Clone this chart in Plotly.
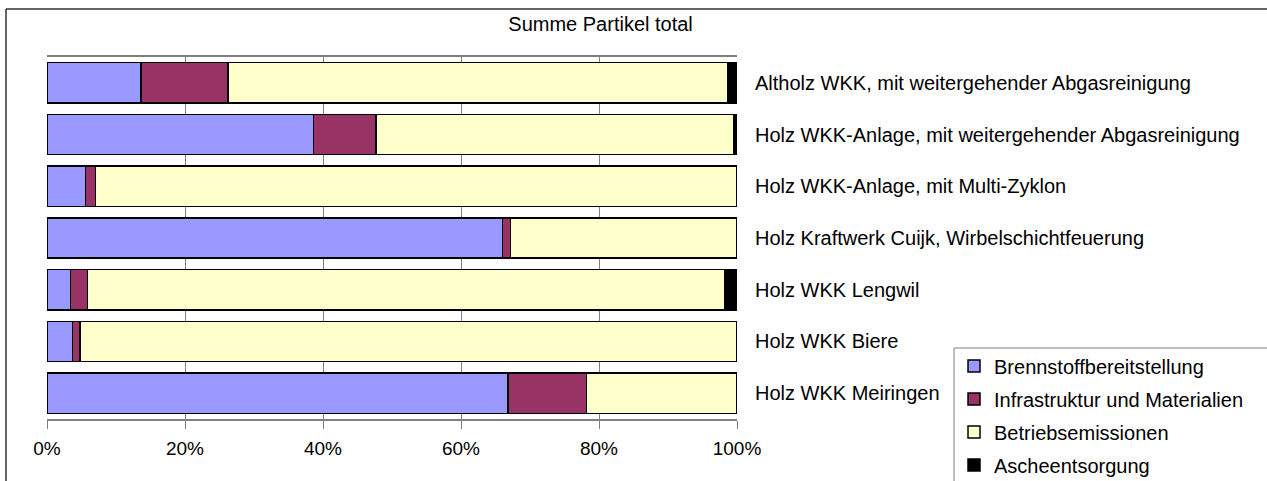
import plotly.graph_objects as go

anlagen = [
    "Holz WKK Meiringen",
    "Holz WKK Biere",
    "Holz WKK Lengwil",
    "Holz Kraftwerk Cuijk, Wirbelschichtfeuerung",
    "Holz WKK-Anlage, mit Multi-Zyklon",
    "Holz WKK-Anlage, mit weitergehender Abgasreinigung",
    "Altholz WKK, mit weitergehender Abgasreinigung",
]
brennstoff = [66.8, 3.7, 3.4, 66.0, 5.6, 38.6, 13.6]
infrastruktur = [11.4, 1.1, 2.5, 1.2, 1.4, 9.1, 12.6]
betrieb = [21.8, 95.2, 92.3, 32.8, 92.9, 51.9, 72.4]
asche = [0.0, 0.0, 1.8, 0.0, 0.1, 0.4, 1.4]

ticks = [0, 20, 40, 60, 80, 100]
tick_labels = ["0%", "20%", "40%", "60%", "80%", "100%"]

serien = [
    ("Brennstoffbereitstellung", brennstoff, "#9999FF"),
    ("Infrastruktur und Materialien", infrastruktur, "#993366"),
    ("Betriebsemissionen", betrieb, "#FFFFCC"),
    ("Ascheentsorgung", asche, "#000000"),
]

fig = go.Figure()
for name, werte, farbe in serien:
    fig.add_trace(go.Bar(
        y=anlagen, x=werte, name=name, orientation="h", legendgroup=name,
        marker=dict(color=farbe, line=dict(color="black", width=1.5))))

# Rahmen: aussen (nur links/oben sichtbar) und Legendenkasten
rahmen = dict(color="#333333", width=1.5)
fig.add_shape(type="line", xref="paper", yref="paper", x0=-0.0594, x1=-0.0594,
              y0=-0.3, y1=1.1326, line=rahmen)
fig.add_shape(type="line", xref="paper", yref="paper", x0=-0.0594, x1=2.5,
              y0=1.1326, y1=1.1326, line=rahmen)
fig.add_shape(type="line", xref="paper", yref="paper", x0=1.3145, x1=1.3145,
              y0=-0.3, y1=0.1961, line=dict(color="#808080", width=1))
fig.add_shape(type="line", xref="paper", yref="paper", x0=1.3145, x1=2.5,
              y0=0.1961, y1=0.1961, line=dict(color="#808080", width=1))

fig.update_layout(
    barmode="stack", bargap=0.22,
    width=1267, height=481,
    margin=dict(l=47, r=530, t=57, b=62, autoexpand=False),
    paper_bgcolor="white", plot_bgcolor="white",
    font=dict(family="Liberation Sans, Arial", size=20, color="black"),
    title=dict(text="Summe Partikel total", x=0.474, xanchor="center",
               y=0.95, yanchor="middle", font=dict(size=20)),
    legend=dict(x=1.3145, y=0.2, xanchor="left", yanchor="top",
                traceorder="grouped", borderwidth=0, bgcolor="rgba(0,0,0,0)",
                font=dict(size=20), tracegroupgap=4, itemwidth=30),
)
fig.update_xaxes(range=[0, 100], tickmode="array", tickvals=ticks, ticktext=tick_labels,
                 showgrid=True, gridcolor="#808080", gridwidth=1, zeroline=False,
                 showline=True, linecolor="#808080", linewidth=1.5, mirror=True,
                 ticks="outside", ticklen=8, tickcolor="#808080",
                 ticklabelstandoff=3, tickfont=dict(size=19), automargin=False)
fig.update_yaxes(side="right", ticks="", showline=False, showgrid=False,
                 ticklabelstandoff=17, tickfont=dict(size=20), automargin=False)

fig.write_html("out.html", config={"displayModeBar": False},
               post_script="document.body.style.margin='0';document.body.style.overflow='hidden';")
